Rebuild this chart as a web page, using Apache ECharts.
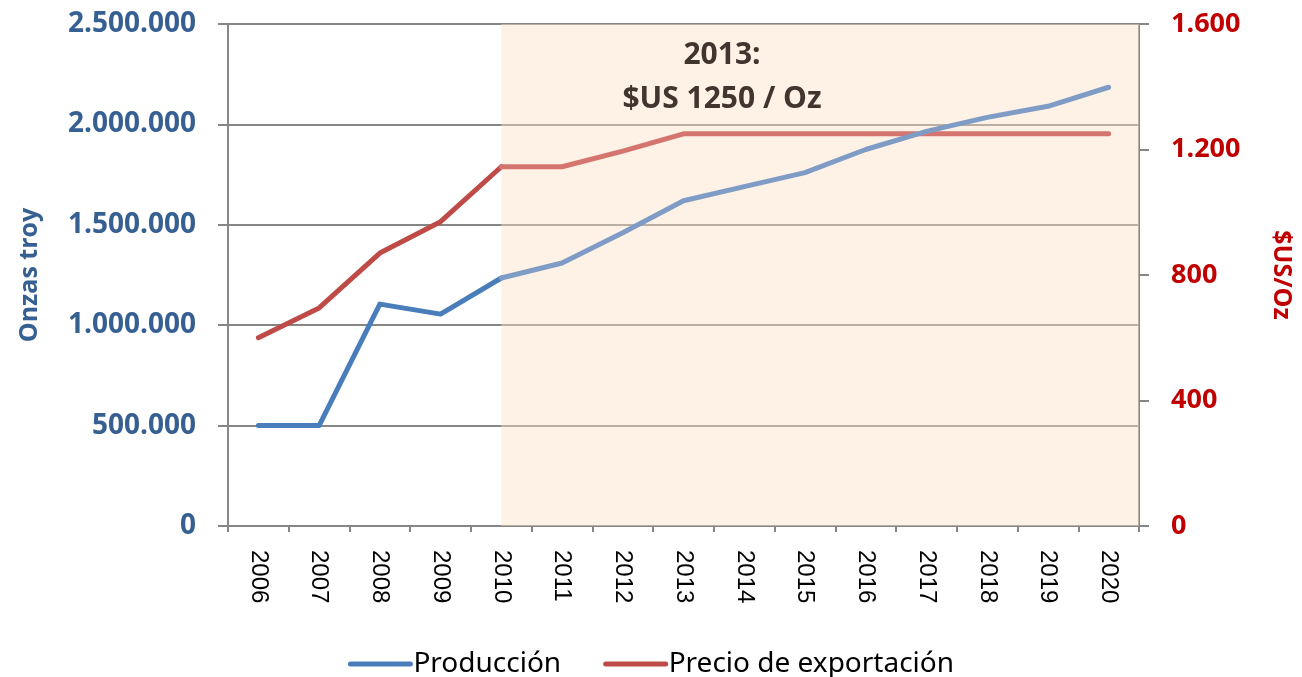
<!DOCTYPE html>
<html lang="es">
<head>
    <meta charset="UTF-8">
    <title>Producción y precio</title>
    <script src="https://cdn.jsdelivr.net/npm/echarts@6/dist/echarts.min.js"></script>
    <style>
        html, body { margin: 0; padding: 0; background: #fff; }
    </style>
</head>
<body>
<div id="main" style="width: 1302px;height:677px;"></div>
<script type="text/javascript">
    // años
    var years = ['2006', '2007', '2008', '2009', '2010', '2011', '2012', '2013',
        '2014', '2015', '2016', '2017', '2018', '2019', '2020'];
    // onzas troy
    var produccion = [500000, 500000, 1105000, 1055000, 1235000, 1310000, 1460000, 1620000,
        1690000, 1760000, 1875000, 1965000, 2035000, 2090000, 2185000];
    // $US/Oz
    var precio = [600, 695, 870, 970, 1145, 1145, 1195, 1250,
        1250, 1250, 1250, 1250, 1250, 1250, 1250];
    var shadeFrom = '2010';
    var leftMax = 2500000;

    var fmt = function (v) {
        return String(v).replace(/\B(?=(\d{3})+(?!\d))/g, '.');
    };

    // tramo antes / dentro de la zona sombreada
    var cut = years.indexOf(shadeFrom);
    function antes(arr) { return arr.map(function (v, i) { return i <= cut ? v : '-'; }); }
    function despues(arr) { return arr.map(function (v, i) { return i >= cut ? v : '-'; }); }

    var lineBase = { type: 'line', symbol: 'none', silent: true };

    var myChart = echarts.init(document.getElementById('main'));
    var option = {
        animation: false,
        title: {
            text: '2013:\n$US 1250 / Oz',
            left: 717,
            top: 28,
            textAlign: 'center',
            textStyle: {
                fontFamily: 'Open Sans',
                fontWeight: 'bold',
                fontSize: 30,
                lineHeight: 44,
                color: '#41362f'
            }
        },
        legend: {
            top: 645,
            left: 'center',
            itemWidth: 60,
            itemHeight: 5,
            itemGap: 42,
            textStyle: { fontFamily: 'Noto Sans', fontSize: 28, color: '#000', padding: [0, 0, 0, -2] },
            data: [
                { name: 'Producción', itemStyle: { color: '#4a7ebb' }, lineStyle: { color: '#4a7ebb', width: 5 } },
                { name: 'Precio de exportación', itemStyle: { color: '#be4b48' }, lineStyle: { color: '#be4b48', width: 5 } }
            ]
        },
        grid: { left: 228, right: 162, top: 24, bottom: 151 },
        xAxis: {
            type: 'category',
            data: years,
            axisLine: { lineStyle: { color: '#868686', width: 2 } },
            axisTick: { show: true, length: 6, lineStyle: { color: '#868686', width: 2 } },
            axisLabel: {
                rotate: -90,
                margin: 24,
                fontFamily: 'Liberation Sans',
                fontSize: 24,
                color: '#000'
            }
        },
        yAxis: [
            {
                type: 'value',
                min: 0,
                max: leftMax,
                interval: 500000,
                name: 'Onzas troy',
                nameLocation: 'middle',
                nameGap: 186,
                nameRotate: 90,
                nameTextStyle: { fontFamily: 'Open Sans', fontWeight: 'bold', fontSize: 25, color: '#376092' },
                axisLine: { show: true, lineStyle: { color: '#868686', width: 2 } },
                axisTick: { show: true, length: 10, lineStyle: { color: '#868686', width: 2 } },
                splitLine: { lineStyle: { color: '#868686', width: 2 } },
                axisLabel: {
                    margin: 32,
                    fontFamily: 'Open Sans',
                    fontWeight: 'bold',
                    fontSize: 28,
                    color: '#376092',
                    formatter: fmt
                }
            },
            {
                type: 'value',
                min: 0,
                max: 1600,
                interval: 400,
                position: 'right',
                name: '$US/Oz',
                nameLocation: 'middle',
                nameGap: 130,
                nameRotate: -90,
                nameTextStyle: { fontFamily: 'Open Sans', fontWeight: 'bold', fontSize: 25, color: '#c00000' },
                axisLine: { show: true, lineStyle: { color: '#868686', width: 2 } },
                axisTick: { show: true, length: 10, lineStyle: { color: '#868686', width: 2 } },
                splitLine: { show: false },
                axisLabel: {
                    margin: 32,
                    fontFamily: 'Open Sans',
                    fontWeight: 'bold',
                    fontSize: 27,
                    color: '#c00000',
                    formatter: fmt
                }
            }
        ],
        series: [
            Object.assign({}, lineBase, {
                name: 'Producción',
                yAxisIndex: 0,
                data: antes(produccion),
                itemStyle: { color: '#4a7ebb' },
                lineStyle: { color: '#4a7ebb', width: 5, cap: 'round', join: 'round' },
                z: 4,
                markArea: {
                    silent: true,
                    itemStyle: { color: 'rgba(252, 224, 200, 0.45)' },
                    data: [[{ xAxis: shadeFrom, yAxis: 0 }, { yAxis: leftMax }]]
                }
            }),
            Object.assign({}, lineBase, {
                name: 'Precio de exportación',
                yAxisIndex: 1,
                data: antes(precio),
                itemStyle: { color: '#be4b48' },
                lineStyle: { color: '#be4b48', width: 5, cap: 'round', join: 'round' },
                z: 3
            }),
            Object.assign({}, lineBase, {
                name: 'Producción 2010-2020',
                yAxisIndex: 0,
                data: despues(produccion),
                lineStyle: { color: '#7f9cc6', width: 5, cap: 'round', join: 'round' },
                z: 4
            }),
            Object.assign({}, lineBase, {
                name: 'Precio 2010-2020',
                yAxisIndex: 1,
                data: despues(precio),
                lineStyle: { color: '#d4766f', width: 5, cap: 'round', join: 'round' },
                z: 3
            })
        ]
    };
    myChart.setOption(option);
</script>
</body>
</html>
